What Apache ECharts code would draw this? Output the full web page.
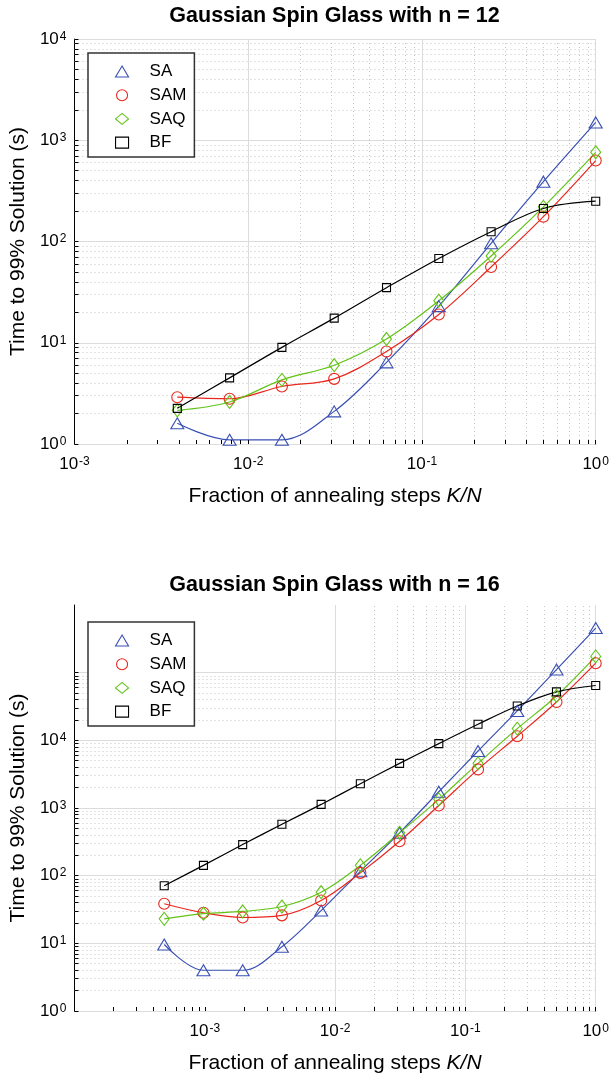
<!DOCTYPE html>
<html>
<head>
<meta charset="utf-8">
<script src="https://cdn.jsdelivr.net/npm/echarts@6.0.0/dist/echarts.min.js"></script>
<style>
html, body { margin: 0; padding: 0; background: #fff; }
#chart { width: 612px; height: 1077px; }
</style>
</head>
<body>
<div id="chart"></div>
<script>
//*************** data ***************
// fraction of annealing steps K/N
var steps12 = [0.00390625, 0.0078125, 0.015625, 0.03125, 0.0625, 0.125, 0.25, 0.5, 1];
var steps16 = [0.00048828125, 0.0009765625, 0.001953125, 0.00390625, 0.0078125, 0.015625,
               0.03125, 0.0625, 0.125, 0.25, 0.5, 1];

// n = 12, time to 99% solution (s)
var sa12  = [1.6, 1.1, 1.1, 2.1, 6.4, 23, 96, 390, 1500];
var sam12 = [2.9, 2.8, 3.7, 4.4, 8.2, 19, 56, 176, 630];
var saq12 = [2.15, 2.6, 4.3, 6.0, 10.9, 26, 72, 220, 760];
var bf12  = [2.25, 4.5, 9, 17.5, 35, 68, 125, 212, 250];

// n = 16
var sa16  = [9.6, 4.0, 4.0, 8.9, 30.5, 116, 430, 1740, 6950, 27200, 111000, 456000];
var sam16 = [38.5, 28.3, 24.1, 25.9, 43, 110, 322, 1090, 3720, 11500, 36900, 138000];
var saq16 = [23, 27.4, 29.6, 35, 57, 142, 430, 1340, 4570, 14900, 45300, 174000];
var bf16  = [71, 142, 288, 575, 1130, 2280, 4570, 8940, 17300, 32200, 52000, 64600];

var seriesNames = ['SA', 'SAM', 'SAQ', 'BF'];
var titles = ['Gaussian Spin Glass with n = 12', 'Gaussian Spin Glass with n = 16'];

//*************** layout / style ***************
var FONT = 'Liberation Sans, Arial, Helvetica, sans-serif';
var COLORS = ['#3a50b4', '#e8271d', '#62c316', '#000000'];
var SYMBOLS = ['triangle', 'circle', 'diamond', 'rect'];
var SIZES = [[13, 11], 11, [10, 13], 8];
var TICK = 4;

var grids = [
    {left: 72, top: 39, width: 525, height: 405},
    {left: 72, top: 605, width: 525, height: 406}
];
var xRange = [[1e-3, 1], [1e-4, 1]];
var yRange = [[1, 1e4], [1, 1e6]];
var yGridTop = [1e4, 1e5];
var hideX = [[], [-4]];
var hideY = [[], [5, 6]];

var chart = echarts.init(document.getElementById('chart'), null, {renderer: 'canvas'});

function powLabel(hidden) {
    return function (v) {
        var e = Math.round(Math.log10(v));
        if (hidden.indexOf(e) >= 0) return '';
        return '{b|10}{s|' + e + '}';
    };
}
var labelRich = {
    b: {fontSize: 17, fontFamily: FONT, color: '#000', verticalAlign: 'bottom', lineHeight: 17},
    s: {fontSize: 12, fontFamily: FONT, color: '#000', verticalAlign: 'top', lineHeight: 12, padding: [0, 0, 10, 1]}
};

function decadeList(lo, hi) {
    var out = [];
    for (var e = Math.round(Math.log10(lo)); e <= Math.round(Math.log10(hi)); e++) out.push(Math.pow(10, e));
    return out;
}
function minorList(lo, hi) {
    var out = [];
    decadeList(lo, hi).slice(0, -1).forEach(function (d) {
        for (var k = 2; k <= 9; k++) out.push(d * k);
    });
    return out;
}

// grid lines and tick marks (MATLAB style: dotted minor grid, ticks inside)
function decoSeries(g) {
    var gr = grids[g], xr = xRange[g], yr = yRange[g];
    var pxX = gr.width / Math.log10(xr[1] / xr[0]);
    var pxY = gr.height / Math.log10(yr[1] / yr[0]);
    var fx = Math.pow(10, TICK / pxX), fy = Math.pow(10, TICK / pxY);

    var minor = minorList(xr[0], xr[1]).map(function (v) { return {xAxis: v}; })
        .concat(minorList(yr[0], yGridTop[g]).map(function (v) { return {yAxis: v}; }));
    var major = decadeList(xr[0], xr[1]).map(function (v) { return {xAxis: v}; })
        .concat(decadeList(yr[0], yGridTop[g]).map(function (v) { return {yAxis: v}; }));
    var ticks = [];
    decadeList(xr[0], xr[1]).concat(minorList(xr[0], xr[1])).forEach(function (v) {
        ticks.push([{coord: [v, yr[0]]}, {coord: [v, yr[0] * fy]}]);
    });
    decadeList(yr[0], yGridTop[g]).concat(minorList(yr[0], yGridTop[g])).forEach(function (v) {
        ticks.push([{coord: [xr[0], v]}, {coord: [xr[0] * fx, v]}]);
    });

    function ml(data, style, z) {
        return {
            type: 'line', xAxisIndex: g, yAxisIndex: g, data: [], silent: true, z: z,
            markLine: {silent: true, symbol: ['none', 'none'], label: {show: false}, z: z,
                       animation: false, lineStyle: style, data: data,
                       emphasis: {disabled: true}}
        };
    }
    return [
        ml(minor, {color: '#c6c6c6', width: 1, type: [1, 3]}, 1),
        ml(major, {color: '#dcdcdc', width: 1, type: 'solid'}, 1),
        ml(ticks, {color: '#000', width: 1, type: 'solid'}, 6)
    ];
}

function dataSeries(g, idx, xs, ys) {
    return {
        name: seriesNames[idx], type: 'line', xAxisIndex: g, yAxisIndex: g,
        data: xs.map(function (x, i) { return [x, ys[i]]; }),
        smooth: 0.35, symbol: SYMBOLS[idx], symbolSize: SIZES[idx], showAllSymbol: true,
        lineStyle: {color: COLORS[idx], width: 1.2},
        itemStyle: {color: 'rgba(0,0,0,0)', borderColor: COLORS[idx], borderWidth: 1.1},
        emphasis: {disabled: true},
        z: 3
    };
}

function legendFor(g) {
    return {
        orient: 'vertical', left: 88, top: g === 0 ? 53 : 622,
        padding: [10, 8, 6, 27], itemGap: 6.7, itemWidth: 13, itemHeight: 11,
        borderColor: '#333', borderWidth: 1.5, backgroundColor: '#fff',
        selectedMode: false, z: 10,
        textStyle: {fontSize: 17, fontFamily: FONT, color: '#000', padding: [0, 0, 0, 16], lineHeight: 14},
        data: seriesNames.map(function (n, i) {
            return {name: n, icon: SYMBOLS[i],
                    itemStyle: {color: 'rgba(0,0,0,0)', borderColor: COLORS[i], borderWidth: 1.1}};
        })
    };
}

var option = {
    animation: false,
    backgroundColor: '#fff',
    title: titles.map(function (t, g) {
        return {text: t, left: 334.5, textAlign: 'center', top: g === 0 ? 5 : 574, padding: 0,
                textStyle: {fontSize: 21.5, fontWeight: 'bold', fontFamily: FONT, color: '#000'}};
    }),
    legend: [legendFor(0), legendFor(1)],
    grid: grids,
    xAxis: [0, 1].map(function (g) {
        return {
            type: 'log', logBase: 10, gridIndex: g, min: xRange[g][0], max: xRange[g][1],
            name: 'Fraction of annealing steps {i|K/N}', nameLocation: 'middle', nameGap: 52,
            nameTextStyle: {fontSize: 21, fontFamily: FONT, color: '#000', verticalAlign: 'middle',
                            rich: {i: {fontSize: 21, fontFamily: FONT, color: '#000', fontStyle: 'italic'}}},
            axisLine: {show: true, onZero: false, lineStyle: {color: '#000', width: 1}},
            axisTick: {show: false}, splitLine: {show: false}, minorTick: {show: false},
            axisLabel: {formatter: powLabel(hideX[g]), rich: labelRich, margin: 12,
                        showMinLabel: true, showMaxLabel: true}
        };
    }),
    yAxis: [0, 1].map(function (g) {
        return {
            type: 'log', logBase: 10, gridIndex: g, min: yRange[g][0], max: yRange[g][1],
            name: 'Time to 99% Solution (s)', nameLocation: 'middle', nameGap: 54,
            nameTextStyle: {fontSize: 21, fontFamily: FONT, color: '#000', verticalAlign: 'middle'},
            axisLine: {show: true, onZero: false, lineStyle: {color: '#000', width: 1}},
            axisTick: {show: false}, splitLine: {show: false}, minorTick: {show: false},
            axisLabel: {formatter: powLabel(hideY[g]), rich: labelRich, margin: 8,
                        showMinLabel: true, showMaxLabel: true}
        };
    }),
    series: [].concat(
        decoSeries(0), decoSeries(1),
        [dataSeries(0, 0, steps12, sa12), dataSeries(0, 1, steps12, sam12),
         dataSeries(0, 2, steps12, saq12), dataSeries(0, 3, steps12, bf12),
         dataSeries(1, 0, steps16, sa16), dataSeries(1, 1, steps16, sam16),
         dataSeries(1, 2, steps16, saq16), dataSeries(1, 3, steps16, bf16)]
    )
};

chart.setOption(option);
</script>
</body>
</html>
